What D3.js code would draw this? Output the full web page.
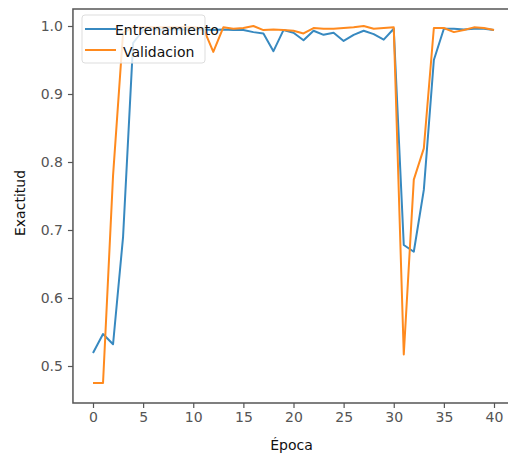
<!DOCTYPE html>
<html>
<head>
<meta charset="utf-8">
<script src="https://cdn.jsdelivr.net/npm/d3@7"></script>
<style>
  body { margin: 0; background: #fff; }
  svg { display: block; font-family: "DejaVu Sans", sans-serif; }
</style>
</head>
<body>
<script>
// epochs 0..40
var epochs = d3.range(0, 41);

var entrenamiento = [
  0.519, 0.547, 0.532, 0.690, 0.975, 0.994, 0.995, 0.995, 0.995, 0.995,
  0.995, 0.995, 0.994, 0.995, 0.994, 0.994, 0.991, 0.989, 0.963, 0.994,
  0.990, 0.979, 0.993, 0.987, 0.990, 0.978, 0.987, 0.993, 0.988, 0.980,
  0.996, 0.678, 0.668, 0.759, 0.950, 0.996, 0.996, 0.995, 0.996, 0.996,
  0.994
];

var validacion = [
  0.475, 0.475, 0.780, 0.990, 0.998, 0.998, 0.998, 0.998, 0.998, 0.998,
  0.998, 0.997, 0.962, 0.998, 0.996, 0.997, 1.000, 0.994, 0.995, 0.994,
  0.993, 0.989, 0.997, 0.996, 0.996, 0.997, 0.998, 1.000, 0.996, 0.997,
  0.998, 0.517, 0.774, 0.820, 0.997, 0.997, 0.991, 0.994, 0.998, 0.997,
  0.994
];

var xticks = [0, 5, 10, 15, 20, 25, 30, 35, 40];
var yticks = [0.5, 0.6, 0.7, 0.8, 0.9, 1.0];
var series = [
  { name: "Entrenamiento", values: entrenamiento, color: "#3789c0" },
  { name: "Validacion", values: validacion, color: "#ff8a1e" }
];

var width = 508, height = 455;

var x = d3.scaleLinear().domain([0, 40]).range([93, 494]);
var y = d3.scaleLinear().domain([0.5, 1.0]).range([366, 26]);

// plot box (right edge lies outside the picture)
var box_left = x(-2), box_right = width + 10, box_top = 9, box_bottom = 403;

var svg = d3.select('body').append('svg')
      .attr('width', width)
      .attr('height', height);

var line = d3.line()
      .x(function (d, i) { return x(epochs[i]); })
      .y(function (d) { return y(d); });

svg.selectAll('path.serie')
    .data(series)
    .enter()
    .append('path')
    .attr('class', 'serie')
    .attr('d', function (d) { return line(d.values); })
    .attr('fill', 'none')
    .attr('stroke', function (d) { return d.color; })
    .attr('stroke-width', 2)
    .attr('stroke-linejoin', 'round');

// spines
svg.append('path')
    .attr('d', 'M' + box_right + ',' + box_top + 'H' + box_left + 'V' + box_bottom + 'H' + box_right)
    .attr('fill', 'none')
    .attr('stroke', '#555')
    .attr('stroke-width', 1.5);

// axes
var xAxis = svg.append('g')
    .attr('transform', 'translate(0,' + box_bottom + ')')
    .call(d3.axisBottom(x).tickValues(xticks).tickSize(5).tickPadding(4).tickFormat(d3.format('d')));

var yAxis = svg.append('g')
    .attr('transform', 'translate(' + box_left + ',0)')
    .call(d3.axisLeft(y).tickValues(yticks).tickSize(5).tickPadding(5).tickFormat(d3.format('.1f')));

[xAxis, yAxis].forEach(function (g) {
  g.select('.domain').remove();
  g.selectAll('.tick line').attr('stroke', '#555').attr('stroke-width', 1.2);
  g.selectAll('.tick text')
    .attr('fill', '#555')
    .style('font-size', '14px')
    .style('font-family', '"DejaVu Sans", sans-serif');
});

// axis titles
svg.append('text')
    .attr('x', x(20) - 2)
    .attr('y', 450)
    .attr('text-anchor', 'middle')
    .attr('fill', '#111')
    .style('font-size', '14px')
    .text('Época');

svg.append('text')
    .attr('transform', 'translate(25,' + 203 + ') rotate(-90)')
    .attr('text-anchor', 'middle')
    .attr('fill', '#111')
    .style('font-size', '14px')
    .text('Exactitud');

// legend
var legend = svg.append('g');
legend.append('rect')
    .attr('x', 82).attr('y', 15)
    .attr('width', 123).attr('height', 48)
    .attr('rx', 3)
    .attr('fill', 'rgba(255,255,255,0.8)')
    .attr('stroke', '#ddd');

var items = legend.selectAll('g.item')
    .data(series)
    .enter()
    .append('g')
    .attr('class', 'item');

items.append('line')
    .attr('x1', 85).attr('x2', 116)
    .attr('y1', function (d, i) { return i === 0 ? 29 : 50; })
    .attr('y2', function (d, i) { return i === 0 ? 29 : 50; })
    .attr('stroke', function (d) { return d.color; })
    .attr('stroke-width', 2);

items.append('text')
    .attr('x', function (d, i) { return i === 0 ? 115 : 123; })
    .attr('y', function (d, i) { return i === 0 ? 35 : 57; })
    .attr('fill', '#111')
    .style('font-size', '14px')
    .text(function (d) { return d.name; });
</script>
</body>
</html>
